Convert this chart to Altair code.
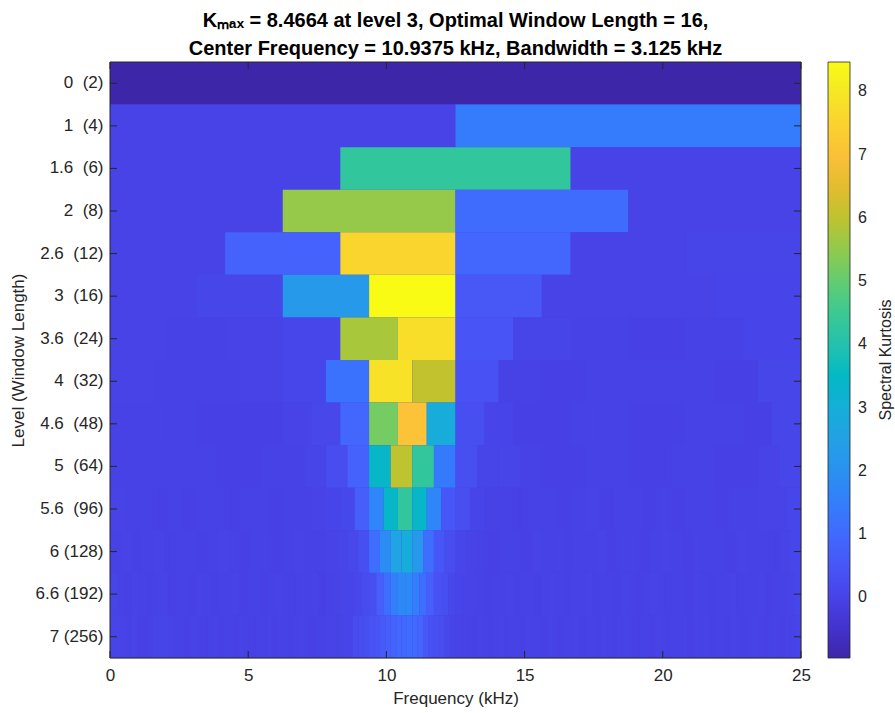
import altair as alt
import pandas as pd

# ---------------- data ----------------
row_labels = [
    "0\u00a0\u00a0(2)", "1\u00a0\u00a0(4)", "1.6\u00a0\u00a0(6)", "2\u00a0\u00a0(8)",
    "2.6\u00a0\u00a0(12)", "3\u00a0\u00a0(16)", "3.6\u00a0\u00a0(24)", "4\u00a0\u00a0(32)",
    "4.6\u00a0\u00a0(48)", "5\u00a0\u00a0(64)", "5.6\u00a0\u00a0(96)", "6 (128)",
    "6.6 (192)", "7 (256)",
]

lvl_0 = [-0.96]
lvl_1 = [0.0, 1.45]
lvl_1_6 = [0.0, 4.3, 0.0]
lvl_2 = [0.0, 5.55, 1.05, 0.0]
lvl_2_6 = [0.0, 0.8, 7.55, 0.9, -0.02, 0.02]
lvl_3 = [-0.02, 0.06, 2.25, 8.4664, 0.55, 0.0, -0.02, 0.05]
lvl_3_6 = [0.0, -0.03, 0.0, 0.08, 5.75, 7.75, 0.45, 0.02, -0.03, -0.05, -0.03, 0.05]
lvl_4 = [-0.02, -0.04, -0.04, 0.0, 0.08, 1.2, 7.85, 6.05,
         0.35, -0.03, -0.05, -0.04, -0.03, -0.04, -0.05, 0.06]
lvl_4_6 = [-0.03, -0.03, -0.03, -0.05, -0.05, -0.05, 0.0, 0.1, 0.9, 5.2, 7.1, 2.9,
           0.3, 0.05, -0.05, -0.05, -0.04, -0.04, -0.05, -0.05, -0.04, -0.04, -0.06, 0.06]
lvl_5 = [-0.03, -0.03, -0.04, -0.04, -0.03, -0.05, -0.05, -0.04, -0.04, 0.03, 0.25, 0.8,
         3.4, 6.0, 4.3, 1.4, 0.3, 0.03, 0.03, -0.04, -0.05, -0.05, -0.04, -0.04,
         -0.05, -0.05, -0.04, -0.04, -0.05, -0.05, -0.02, 0.07]
lvl_5_6 = [-0.02, -0.04, -0.03, -0.05, -0.04, -0.05, -0.03, -0.04, -0.05, -0.03, -0.04, -0.05,
           -0.04, -0.03, 0.0, 0.05, 0.12, 0.7, 1.7, 3.4, 4.3, 3.4, 1.7, 0.5,
           0.3, 0.05, -0.03, -0.04, -0.05, -0.04, -0.03, -0.05, -0.04, -0.02, -0.05, -0.04,
           -0.03, -0.05, -0.04, -0.05, -0.03, -0.04, -0.05, -0.04, -0.03, -0.02, 0.0, 0.08]
lvl_6 = [-0.03, -0.02, -0.05, -0.04, -0.02, -0.05, -0.03, -0.04, -0.05, -0.03, -0.02, -0.04,
         -0.05, -0.04, -0.03, -0.05, -0.04, -0.02, -0.03, -0.04, 0.0, 0.03, 0.1, 0.3,
         1.1, 1.9, 2.6, 2.9, 2.2, 1.1, 0.5, 0.25, 0.08, -0.02, -0.04, -0.05,
         -0.03, -0.04, -0.05, -0.02, -0.04, -0.03, -0.05, -0.04, -0.03, -0.02, -0.05, -0.04,
         -0.03, -0.05, -0.04, -0.02, -0.03, -0.05, -0.04, -0.03, -0.04, -0.05, -0.02, -0.04,
         -0.03, -0.05, -0.02, 0.08]
lvl_6_6 = [0.02, -0.03, -0.05, -0.02, -0.04, -0.06, -0.03, -0.02, -0.05, -0.04, -0.03, -0.06,
           -0.02, -0.04, -0.05, -0.03, -0.04, -0.02, -0.05, -0.03, -0.04, -0.06, -0.03, -0.02,
           -0.04, -0.05, -0.03, -0.04, -0.02, -0.05, -0.03, -0.01, 0.02, 0.05, 0.1, 0.2,
           0.3, 0.7, 1.1, 1.5, 1.8, 1.8, 1.5, 1.1, 0.7, 0.35, 0.3, 0.1,
           0.05, 0.0, -0.02, -0.04, -0.05, -0.03, -0.04, -0.02, -0.05, -0.03, -0.04, -0.06,
           -0.03, -0.02, -0.04, -0.05, -0.03, -0.04, -0.02, -0.05, -0.03, -0.04, -0.06, -0.02,
           -0.03, -0.05, -0.04, -0.02, -0.03, -0.05, -0.04, -0.03, -0.06, -0.02, -0.04, -0.05,
           -0.03, -0.04, -0.02, -0.05, -0.03, -0.04, -0.02, -0.05, -0.03, -0.04, -0.02, 0.06]
lvl_7 = [0.03, 0.05, -0.02, -0.04, 0.02, -0.05, -0.07, -0.03, 0.02, 0.04, 0.03, 0.0,
         -0.04, -0.03, -0.05, -0.02, -0.04, -0.06, -0.03, -0.02, -0.05, -0.04, -0.03, -0.06,
         -0.02, -0.04, -0.05, -0.03, -0.04, -0.02, -0.05, -0.03, -0.04, -0.06, -0.03, -0.02,
         -0.04, -0.05, -0.03, -0.04, -0.02, -0.01, 0.0, 0.02, 0.05, 0.2, 0.25, 0.3,
         0.4, 0.45, 0.6, 0.7, 0.8, 0.95, 1.0, 1.05, 1.0, 0.85, 0.55, 0.35,
         0.3, 0.25, 0.1, 0.05, -0.02, -0.04, -0.03, -0.05, -0.02, -0.04, -0.06, -0.03,
         -0.02, -0.05, -0.04, -0.03, -0.05, -0.02, -0.04, -0.03, -0.06, -0.02, -0.04, -0.05,
         -0.03, -0.04, -0.02, -0.05, -0.03, -0.04, -0.06, -0.02, -0.03, -0.05, -0.04, -0.02,
         -0.03, -0.05, -0.04, -0.03, -0.06, -0.02, -0.04, -0.05, -0.03, -0.04, -0.02, -0.05,
         -0.03, -0.04, -0.02, -0.05, -0.03, -0.04, -0.06, -0.02, -0.03, -0.05, -0.04, -0.02,
         -0.03, -0.05, -0.04, -0.03, -0.06, -0.04, -0.02, 0.05]

rows = [lvl_0, lvl_1, lvl_1_6, lvl_2, lvl_2_6, lvl_3, lvl_3_6, lvl_4,
        lvl_4_6, lvl_5, lvl_5_6, lvl_6, lvl_6_6, lvl_7]

f_max = 25.0
x_ticks = [0, 5, 10, 15, 20, 25]
cbar_ticks = [0, 1, 2, 3, 4, 5, 6, 7, 8]
vmin, vmax = -0.96, 8.4664

title_lines = [
    "K\u2098\u2090\u2093 = 8.4664 at level 3, Optimal Window Length = 16,",
    "Center Frequency = 10.9375 kHz, Bandwidth = 3.125 kHz",
]

# ---------------- parula colormap stops ----------------
parula = [
    (0.2422, 0.1504, 0.6603), (0.2647, 0.1978, 0.7952), (0.2783, 0.2559, 0.8991),
    (0.2810, 0.3228, 0.9579), (0.2699, 0.3892, 0.9906), (0.2206, 0.4603, 0.9973),
    (0.1786, 0.5289, 0.9682), (0.1540, 0.5902, 0.9218), (0.1248, 0.6459, 0.8883),
    (0.0689, 0.6948, 0.8394), (0.0067, 0.7312, 0.7660), (0.1408, 0.7584, 0.6842),
    (0.2161, 0.7843, 0.5923), (0.3406, 0.8008, 0.4789), (0.5044, 0.7993, 0.3480),
    (0.6720, 0.7793, 0.2227), (0.8203, 0.7498, 0.1535), (0.9393, 0.7288, 0.2100),
    (0.9970, 0.7659, 0.2199), (0.9786, 0.8386, 0.1766), (0.9597, 0.9135, 0.1423),
    (0.9769, 0.9839, 0.0805),
]
par_hex = ["#%02x%02x%02x" % tuple(int(round(c * 255)) for c in rgb) for rgb in parula]
n_st = len(par_hex)
par_dom = [vmin + (vmax - vmin) * k / (n_st - 1) for k in range(n_st)]

records = []
for lab, vals in zip(row_labels, rows):
    n = len(vals)
    for i, v in enumerate(vals):
        records.append({"label": lab, "f0": f_max * i / n, "f1": f_max * (i + 1) / n, "sk": v})
df = pd.DataFrame(records)

W, H = 691, 596
FONT = "Liberation Sans"
INK = "#262626"
BASE = "#4545e7"
CB_X, CB_W = 718, 22

xscale = alt.Scale(domain=[0, f_max], nice=False, zero=False)
yscale = alt.Scale(paddingInner=0, paddingOuter=0)
cscale = alt.Scale(domain=par_dom, range=par_hex, interpolate="rgb")

# plain backdrop under the cells so anti-aliased seams do not show white
backdrop = alt.Chart(pd.DataFrame({"a": [0]})).mark_rect(color=BASE).encode(
    x=alt.value(0), x2=alt.value(W), y=alt.value(0), y2=alt.value(H))

heat = alt.Chart(df).mark_rect(strokeWidth=0).encode(
    x=alt.X("f0:Q", scale=xscale,
            axis=alt.Axis(values=x_ticks, title="Frequency (kHz)", grid=False, domain=False,
                          ticks=False, tickSize=0, labelPadding=9, titlePadding=7,
                          labelFlush=False,
                          labelFontSize=17, titleFontSize=17, titleFontWeight="normal",
                          labelColor=INK, titleColor=INK, labelFont=FONT, titleFont=FONT)),
    x2="f1:Q",
    y=alt.Y("label:N", sort=row_labels, scale=yscale,
            axis=alt.Axis(title="Level (Window Length)", domain=False, ticks=False, tickSize=0,
                          labelPadding=7, titlePadding=7, labelFontSize=17, titleFontSize=17,
                          titleFontWeight="normal", labelColor=INK, titleColor=INK,
                          labelFont=FONT, titleFont=FONT, labelLimit=200)),
    color=alt.Color("sk:Q", scale=cscale,
                    legend=alt.Legend(type="gradient", title=None, orient="none",
                                      legendX=CB_X, legendY=0,
                                      direction="vertical", gradientLength=H,
                                      gradientThickness=CB_W, values=cbar_ticks,
                                      labelFontSize=16, labelOffset=8, labelColor=INK,
                                      labelFont=FONT, labelBaseline="middle",
                                      labelOverlap=False,
                                      gradientStrokeColor=INK, gradientStrokeWidth=0.8)),
)

xt_df = pd.DataFrame({"t": x_ticks})
ticks_bottom = alt.Chart(xt_df).mark_rule(color=INK, strokeWidth=1).encode(
    x=alt.X("t:Q", scale=xscale), y=alt.value(H), y2=alt.value(H - 7))
ticks_top = alt.Chart(xt_df).mark_rule(color=INK, strokeWidth=1).encode(
    x=alt.X("t:Q", scale=xscale), y=alt.value(0), y2=alt.value(7))

yt_df = pd.DataFrame({"label": row_labels})
ticks_left = alt.Chart(yt_df).mark_rule(color=INK, strokeWidth=1).encode(
    y=alt.Y("label:N", sort=row_labels, scale=yscale), x=alt.value(0), x2=alt.value(7))
ticks_right = alt.Chart(yt_df).mark_rule(color=INK, strokeWidth=1).encode(
    y=alt.Y("label:N", sort=row_labels, scale=yscale), x=alt.value(W), x2=alt.value(W - 7))

frame = alt.Chart(pd.DataFrame({"a": [0]})).mark_rect(
    fill=None, stroke=INK, strokeWidth=1).encode(
    x=alt.value(0), x2=alt.value(W), y=alt.value(0), y2=alt.value(H))

cbar_title = alt.Chart(pd.DataFrame({"t": ["Spectral Kurtosis"]})).mark_text(
    angle=270, fontSize=16, font=FONT, color=INK, baseline="middle", align="center").encode(
    text="t:N", x=alt.value(776), y=alt.value(H / 2))

main = alt.layer(backdrop, heat, ticks_bottom, ticks_top, ticks_left, ticks_right, frame,
                 cbar_title)

# colour-bar inner tick marks (on the bar's right edge), using a value scale
cb_ticks = alt.Chart(pd.DataFrame({"v": cbar_ticks})).mark_rule(color=INK, strokeWidth=1).encode(
    y=alt.Y("v:Q", scale=alt.Scale(domain=[vmin, vmax], nice=False, zero=False), axis=None),
    x=alt.value(CB_X + CB_W - 5), x2=alt.value(CB_X + CB_W))

chart = alt.layer(main, cb_ticks).resolve_scale(y="independent").properties(
    width=W, height=H,
    autosize="none",
    padding={"left": 110, "top": 62, "right": 94, "bottom": 55},
    title=alt.TitleParams(title_lines, fontSize=20, fontWeight="bold", font=FONT,
                          color="#000000", anchor="middle", offset=3, lineHeight=28),
).configure_view(stroke=None).configure(background="white")

chart.save("out.html", embed_options={"renderer": "svg", "actions": False})
